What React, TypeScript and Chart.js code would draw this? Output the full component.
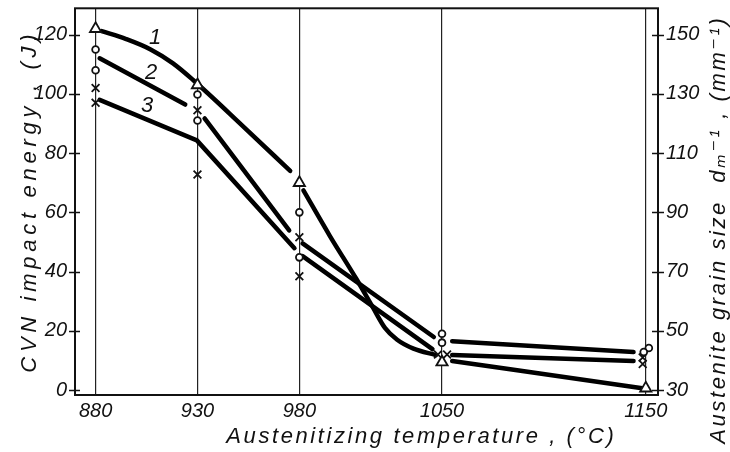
import React, { useEffect, useRef } from "react";
import { Chart, registerables } from "chart.js";

Chart.register(...registerables);

// ---- axis ticks ----
const xTicks = [880, 930, 980, 1050, 1150];
const leftTicks = [0, 20, 40, 60, 80, 100, 120];
const rightTicks = [30, 50, 70, 90, 110, 130, 150];

// ---- curve 1 (smooth), null = pen lifted at a marker ----
const curve1X = [883, 895, 907, 918, 928, 952, 975.5, 978, 982, 995, 1008, 1016, 1022, 1028, 1036, 1047, 1051, 1055, 1150];
const curve1Y = [121.2, 118.5, 115, 110.3, 104.6, 89.3, 74, null, 67.4, 52, 37.5, 28, 21, 17, 14, 11.8, null, 9.8, 0.4];

// ---- curve 2 ----
const curve2X = [882, 924, 929, 933.5, 975, 978, 981.6, 1046, 1050, 1055, 1144];
const curve2Y = [112, 96.4, null, 91.7, 53.9, null, 49.5, 17.9, null, 16.5, 12.8];

// ---- curve 3 ----
const curve3X = [882, 929.7, 977.6, 979, 981.6, 1045.3, 1050, 1055, 1144];
const curve3Y = [98, 84.3, 47.9, null, 45.2, 13.8, null, 11.8, 9.8];

// ---- measured points ----
const triX = [880, 930, 980, 1050, 1150];
const triY = [122, 103, 70, 9.4, 0.6];
const circX = [880, 880, 930, 930, 980, 980, 1050, 1050, 1151.5, 1149];
const circY = [115, 108, 99.8, 91, 60, 44.8, 19, 16, 14.2, 12.8];
const crossX = [880, 880, 930, 930, 980, 980, 1048, 1052.5, 1148.5, 1148.5];
const crossY = [102, 97, 94.5, 72.8, 51.6, 38.4, 12, 12, 11, 8.8];

// ---- curve labels ----
const curveNames = ["1", "2", "3"];
const curveNameX = [909.2, 907.2, 905.3];
const curveNameY = [118.8, 107, 96];

const xTitle = "Austenitizing temperature , (°C)";
const yTitle = "CVN impact energy , (J)";
const y1Title = "Austenite grain size  dₘ⁻¹ , (mm⁻¹)";

const FONT = '"Liberation Sans", "DejaVu Sans", sans-serif';
const INK = "#111";

const pts = (xs: number[], ys: (number | null)[]) => xs.map((x, i) => ({ x, y: ys[i] }));

const zeroPad = (s: any) => {
  s.paddingTop = 0;
  s.paddingBottom = 0;
  s.paddingLeft = 0;
  s.paddingRight = 0;
};

function drawSpaced(ctx: CanvasRenderingContext2D, text: string, x: number, y: number, rot: number, len: number) {
  ctx.save();
  ctx.translate(x, y);
  ctx.rotate(rot);
  (ctx as any).letterSpacing = "0px";
  const w = ctx.measureText(text).width;
  const n = Array.from(text).length;
  const sp = Math.max(0, (len - w) / n);
  (ctx as any).letterSpacing = sp + "px";
  ctx.textAlign = "center";
  ctx.textBaseline = "alphabetic";
  ctx.fillText(text, sp / 2, 0);
  ctx.restore();
}

const overlay = {
  id: "overlay",
  afterDraw(chart: any) {
    const { ctx, chartArea: a, scales } = chart;
    ctx.save();
    ctx.strokeStyle = INK;
    ctx.lineWidth = 2;
    ctx.strokeRect(a.left, a.top, a.right - a.left, a.bottom - a.top);
    ctx.lineWidth = 1.6;
    ctx.beginPath();
    leftTicks.forEach((v) => {
      const y = Math.round(scales.y.getPixelForValue(v)) + 0.5;
      ctx.moveTo(a.left - 6, y);
      ctx.lineTo(a.left + 5, y);
    });
    rightTicks.forEach((v) => {
      const y = Math.round(scales.y1.getPixelForValue(v)) + 0.5;
      ctx.moveTo(a.right - 6, y);
      ctx.lineTo(a.right + 6, y);
    });
    ctx.stroke();

    ctx.fillStyle = INK;
    ctx.font = "italic 22px " + FONT;
    ctx.textAlign = "center";
    ctx.textBaseline = "middle";
    curveNames.forEach((t, i) => {
      ctx.fillText(t, scales.x.getPixelForValue(curveNameX[i]), scales.y.getPixelForValue(curveNameY[i]));
    });

    ctx.font = "italic 22px " + FONT;
    drawSpaced(ctx, yTitle, 36, 203.5, -Math.PI / 2, 343);
    drawSpaced(ctx, y1Title, 725, 231, -Math.PI / 2, 428);
    drawSpaced(ctx, xTitle, 420, 443, 0, 390);
    ctx.restore();
  },
};

export default function App() {
  const ref = useRef<HTMLCanvasElement | null>(null);
  useEffect(() => {
    if (!ref.current) return;
    const lineDs = (xs: number[], ys: (number | null)[], tension: number, mono: boolean) => ({
      type: "line" as const,
      data: pts(xs, ys),
      borderColor: "#000",
      borderWidth: 4.5,
      pointRadius: 0,
      tension,
      cubicInterpolationMode: mono ? ("monotone" as const) : ("default" as const),
      spanGaps: false,
      borderCapStyle: "round" as const,
      borderJoinStyle: "round" as const,
      fill: false,
      yAxisID: "y",
    });
    const markDs = (xs: number[], ys: number[], style: string, r: number) => ({
      type: "scatter" as const,
      data: pts(xs, ys),
      pointStyle: style,
      pointRadius: r,
      pointBorderWidth: 1.8,
      pointBorderColor: INK,
      pointBackgroundColor: "#fff",
      borderColor: INK,
      backgroundColor: "#fff",
      showLine: false,
      yAxisID: "y",
    });
    const chart = new Chart(ref.current, {
      type: "scatter",
      data: {
        datasets: [
          markDs(triX, triY, "triangle", 6.5),
          markDs(circX, circY, "circle", 3.4),
          markDs(crossX, crossY, "crossRot", 5.5),
          lineDs(curve1X, curve1Y, 0.4, true),
          lineDs(curve2X, curve2Y, 0, false),
          lineDs(curve3X, curve3Y, 0, false),
        ] as any,
      },
      options: {
        responsive: false,
        animation: false,
        layout: { padding: { top: 7, left: 0, right: 0, bottom: 0 } },
        plugins: { legend: { display: false }, tooltip: { enabled: false } },
        scales: {
          x: {
            type: "linear",
            position: "bottom",
            min: 869.9,
            max: 1156,
            afterBuildTicks: (s: any) => {
              s.ticks = xTicks.map((v) => ({ value: v }));
            },
            afterFit: (s: any) => {
              s.height = 57;
              zeroPad(s);
            },
            grid: { display: true, drawOnChartArea: true, drawTicks: false, color: "#222", lineWidth: 1.2 },
            border: { display: false },
            ticks: {
              padding: 4,
              color: INK,
              font: { family: FONT, size: 20, style: "italic" },
              maxRotation: 0,
              autoSkip: false,
              callback: (v: any) => String(v),
            },
          },
          y: {
            type: "linear",
            position: "left",
            min: -1.68,
            max: 128.9,
            afterBuildTicks: (s: any) => {
              s.ticks = leftTicks.map((v) => ({ value: v }));
            },
            afterFit: (s: any) => {
              s.width = 75;
              zeroPad(s);
            },
            grid: { display: false, drawTicks: false },
            border: { display: false },
            ticks: {
              padding: 8,
              color: INK,
              font: { family: FONT, size: 20, style: "italic" },
              autoSkip: false,
              callback: (v: any) => String(v),
            },
          },
          y1: {
            type: "linear",
            position: "right",
            min: 28.32,
            max: 158.9,
            afterBuildTicks: (s: any) => {
              s.ticks = rightTicks.map((v) => ({ value: v }));
            },
            afterFit: (s: any) => {
              s.width = 72;
              zeroPad(s);
            },
            grid: { display: false, drawTicks: false },
            border: { display: false },
            ticks: {
              padding: 8,
              color: INK,
              font: { family: FONT, size: 20, style: "italic" },
              autoSkip: false,
              callback: (v: any) => String(v),
            },
          },
        },
      } as any,
      plugins: [overlay],
    });
    return () => chart.destroy();
  }, []);
  return (
    <div style={{ position: "absolute", left: 0, top: 0, width: 730, height: 452, background: "#fff" }}>
      <canvas ref={ref} width={730} height={452} style={{ display: "block" }} />
    </div>
  );
}
